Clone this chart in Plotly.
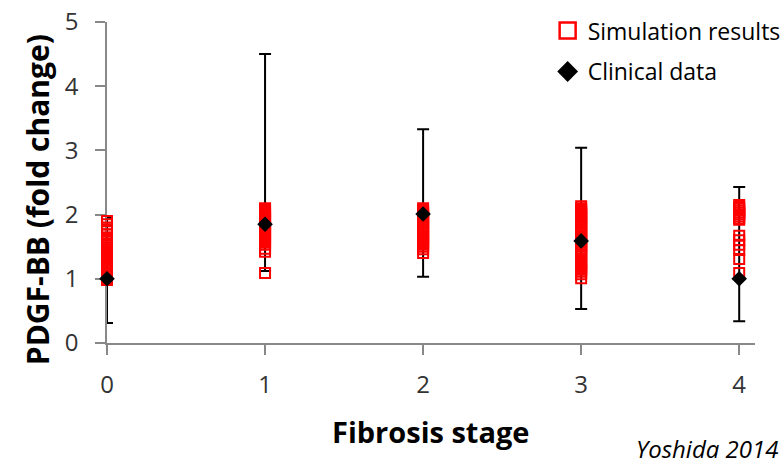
import plotly.graph_objects as go

# ---- data ----
stages = [0, 1, 2, 3, 4]
tick_labels = ["0", "1", "2", "3", "4"]

clinical_mean = [1.00, 1.85, 2.01, 1.59, 1.00]
clinical_upper = [1.95, 4.50, 3.33, 3.04, 2.43]
clinical_lower = [0.31, 1.12, 1.03, 0.53, 0.34]

sim_stage0 = [1.90, 1.85, 1.80, 1.77, 1.74, 1.69, 1.64, 1.61, 1.58, 1.55, 1.52,
              1.49, 1.46, 1.43, 1.40, 1.37, 1.34, 1.31, 1.28, 1.25, 1.22, 1.19,
              1.16, 1.13, 1.10, 1.07, 1.04, 1.01, 0.98]
sim_stage1 = [2.10, 2.07, 2.04, 2.01, 1.98, 1.95, 1.92, 1.89, 1.86, 1.83, 1.80,
              1.77, 1.74, 1.71, 1.68, 1.65, 1.62, 1.59, 1.56, 1.53, 1.47, 1.42,
              1.09]
sim_stage2 = [2.10, 2.07, 2.04, 2.01, 1.98, 1.95, 1.92, 1.89, 1.86, 1.83, 1.80,
              1.77, 1.74, 1.71, 1.68, 1.65, 1.62, 1.59, 1.56, 1.53, 1.50, 1.46,
              1.40]
sim_stage3 = [2.13, 2.10, 2.07, 2.04, 2.01, 1.98, 1.95, 1.92, 1.89, 1.86, 1.83,
              1.80, 1.77, 1.74, 1.71, 1.68, 1.65, 1.62, 1.59, 1.56, 1.53, 1.50,
              1.47, 1.44, 1.41, 1.38, 1.35, 1.29, 1.26, 1.23, 1.20, 1.17, 1.14,
              1.11, 1.07, 1.01]
sim_stage4 = [2.15, 2.12, 2.09, 2.06, 2.03, 2.00, 1.97, 1.94, 1.92, 1.67, 1.60,
              1.53, 1.45, 1.31, 1.09]

sim_by_stage = [sim_stage0, sim_stage1, sim_stage2, sim_stage3, sim_stage4]

sim_x = []
sim_y = []
for st, vals in zip(stages, sim_by_stage):
    sim_x += [st] * len(vals)
    sim_y += vals

err_plus = [u - m for u, m in zip(clinical_upper, clinical_mean)]
err_minus = [m - l for m, l in zip(clinical_mean, clinical_lower)]

FONT = "Open Sans"
RED = "#ff0000"

fig = go.Figure()

# clinical error bars (drawn beneath the squares)
fig.add_trace(go.Scatter(
    x=stages, y=clinical_mean, mode="markers",
    marker=dict(size=1, color="rgba(0,0,0,0)"),
    error_y=dict(type="data", symmetric=False, array=err_plus,
                 arrayminus=err_minus, color="black", thickness=2, width=6),
    showlegend=False, hoverinfo="skip",
))

# simulation results
fig.add_trace(go.Scatter(
    x=sim_x, y=sim_y, mode="markers",
    marker=dict(symbol="square-open", size=10, color=RED,
                line=dict(color=RED, width=2)),
    cliponaxis=False, showlegend=False,
))

# clinical data diamonds
fig.add_trace(go.Scatter(
    x=stages, y=clinical_mean, mode="markers",
    marker=dict(symbol="diamond", size=12, color="black"),
    cliponaxis=False, showlegend=False,
))

# legend entries
fig.add_trace(go.Scatter(
    x=[None], y=[None], mode="markers", name="Simulation results",
    legendgroup="a",
    marker=dict(symbol="square-open", size=16, color=RED,
                line=dict(color=RED, width=2.5)),
))
fig.add_trace(go.Scatter(
    x=[None], y=[None], mode="markers", name="Clinical data",
    legendgroup="b",
    marker=dict(symbol="diamond", size=16, color="black"),
))

axis_color = "#888888"
tick_font = dict(family=FONT, size=24, color="#333333")

fig.update_layout(
    width=784, height=469,
    margin=dict(l=107, r=29, t=22, b=126, autoexpand=False),
    paper_bgcolor="white", plot_bgcolor="white",
    font=dict(family=FONT, color="black"),
    xaxis=dict(range=[0, 4.1], tickvals=stages, ticktext=tick_labels,
               showgrid=False, zeroline=False, showline=True,
               linecolor=axis_color, linewidth=1.5, ticks="outside",
               ticklen=10, tickcolor=axis_color, tickwidth=1.5,
               tickfont=tick_font, ticklabelstandoff=9, layer="below traces"),
    yaxis=dict(range=[0, 5], tickvals=[0, 1, 2, 3, 4, 5],
               showgrid=False, zeroline=False, showline=True,
               linecolor=axis_color, linewidth=1.5, ticks="outside",
               ticklen=10, tickcolor=axis_color, tickwidth=1.5,
               tickfont=tick_font, ticklabelstandoff=12, layer="below traces"),
    legend=dict(x=0.68, y=1.04, xanchor="left", yanchor="top",
                bgcolor="rgba(0,0,0,0)", traceorder="grouped",
                tracegroupgap=8,
                font=dict(family=FONT, size=23, color="black")),
    showlegend=True,
    annotations=[
        dict(text="<b>PDGF-BB (fold change)</b>", textangle=-90,
             xref="paper", yref="paper", x=-0.108, y=0.445,
             xanchor="center", yanchor="middle", showarrow=False,
             font=dict(family=FONT, size=30, color="black")),
        dict(text="<b>Fibrosis stage</b>",
             xref="paper", yref="paper", x=0.5, y=-0.277,
             xanchor="center", yanchor="middle", showarrow=False,
             font=dict(family=FONT, size=29, color="black")),
        dict(text="<i>Yoshida 2014</i>",
             xref="paper", yref="paper", x=1.038, y=-0.33,
             xanchor="right", yanchor="middle", showarrow=False,
             font=dict(family=FONT, size=24, color="black")),
    ],
)

fig.write_html("out.html")
